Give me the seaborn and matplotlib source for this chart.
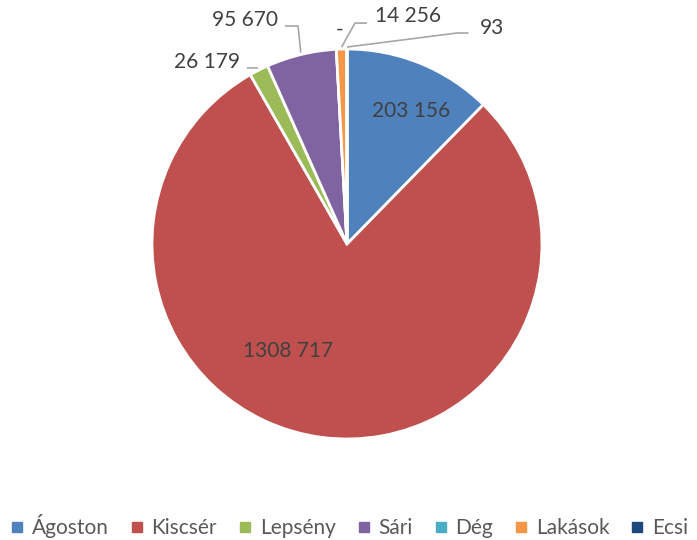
import numpy as np
import matplotlib
matplotlib.use("Agg")
import matplotlib.pyplot as plt
from matplotlib.lines import Line2D
import seaborn as sns

categories = ["Ágoston", "Kiscsér", "Lepsény", "Sári", "Dég", "Lakások", "Ecsi"]
values = [203156, 1308717, 26179, 95670, 0, 14256, 93]
labels = ["203 156", "1308 717", "26 179", "95 670", "-", "14 256", "93"]
colors = ["#4F81BD", "#C0504D", "#9BBB59", "#8064A2", "#4BACC6", "#F79646", "#1F497D"]

sns.set_theme(style="white")
plt.rcParams["font.family"] = ["Lato", "DejaVu Sans"]

fig = plt.figure(figsize=(6.97, 5.4), dpi=100)
ax = fig.add_axes([0, 0, 1, 1])

wedges, _ = ax.pie(values, colors=colors, startangle=90, counterclock=False,
                   radius=1.0, wedgeprops=dict(edgecolor="white", linewidth=2))

ax.set_xlim(-347 / 195, 350 / 195)
ax.set_ylim(-296 / 195, 244 / 195)
ax.axis("off")

txt = "#404040"
line_c = "#A6A6A6"
fs = 15

# inside labels
ax.text(0.33, 0.68, labels[0], ha="center", va="center", fontsize=fs, color=txt)
ax.text(-0.30, -0.55, labels[1], ha="center", va="center", fontsize=fs, color=txt)

# outside labels: text x, text y, ha, line start x, elbow x, line y
outside = {
    2: (-0.549, 0.933, "right", -0.513, -0.462, 0.903),
    3: (-0.354, 1.149, "right", -0.318, -0.251, 1.118),
    5: (0.144, 1.169, "left", 0.103, 0.041, 1.133),
    6: (0.680, 1.108, "left", 0.623, 0.564, 1.082),
}
for i, (tx, ty, ha, sx, ex, ly) in outside.items():
    w = wedges[i]
    mid = np.deg2rad((w.theta1 + w.theta2) / 2)
    px, py = 1.01 * np.cos(mid), 1.01 * np.sin(mid)
    ax.plot([sx, ex, px], [ly, ly, py], color=line_c, lw=1.2, solid_capstyle="butt")
    ax.text(tx, ty, labels[i], ha=ha, va="center", fontsize=fs, color=txt)

# Dég label, zero size slice
w = wedges[4]
mid = np.deg2rad(w.theta1)
ax.text(1.1 * np.cos(mid) + 0.02, 1.1 * np.sin(mid), labels[4], ha="center",
        va="center", fontsize=fs, color=txt)

handles = [Line2D([0], [0], marker="s", color="none", markerfacecolor=c,
                  markeredgecolor=c, markersize=7) for c in colors]
fig.legend(handles, categories, loc="center", bbox_to_anchor=(0.5, 0.026), ncol=7,
           frameon=False, fontsize=15, labelcolor="#595959", handlelength=0.8,
           handletextpad=0.3, columnspacing=0.95)

fig.savefig("out.png", dpi=100)
